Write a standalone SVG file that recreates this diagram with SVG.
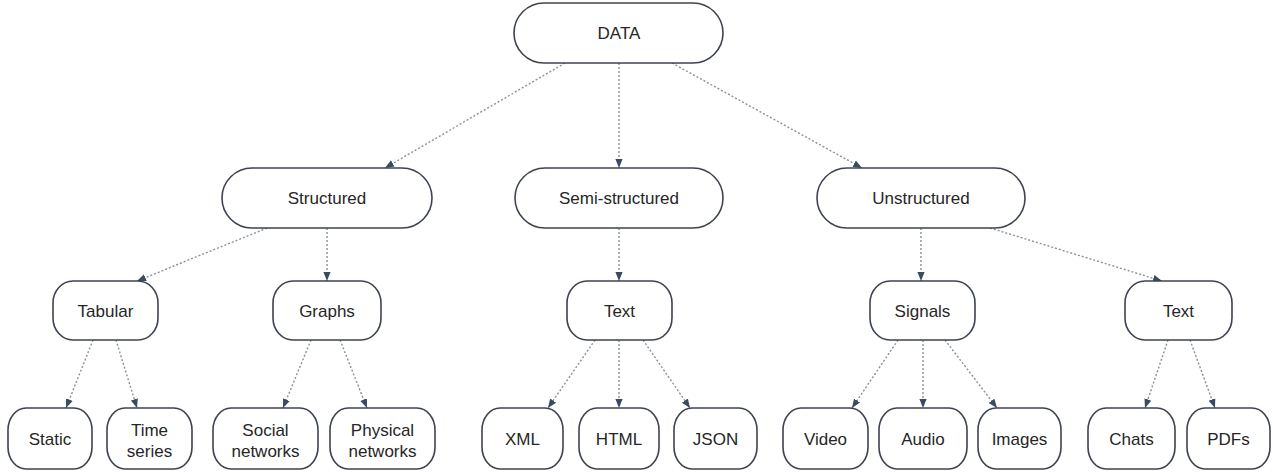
<svg xmlns="http://www.w3.org/2000/svg" width="1273" height="472" viewBox="0 0 1273 472">
  <style>
    .box { fill: #ffffff; stroke: #3d4350; stroke-width: 1.6; }
    .lbl { font-family: "Liberation Sans", Arial, sans-serif; font-size: 17px; fill: #262626; text-anchor: middle; }
    .edge { fill: none; stroke: #8b909a; stroke-width: 1.4; stroke-dasharray: 2 2; marker-end: url(#arrow); }
  </style>
  <defs>
    <marker id="arrow" markerUnits="userSpaceOnUse" markerWidth="9" markerHeight="9" viewBox="0 0 10 10" refX="10" refY="5" orient="auto">
      <path d="M0,1 L10,5 L0,9 Z" fill="#3b4a60"/>
    </marker>
  </defs>
  <rect width="1273" height="472" fill="#ffffff"/>

  <!-- connectors -->
  <g id="connectors">
    <line class="edge" x1="565" y1="63" x2="385" y2="168"/>
    <line class="edge" x1="619" y1="63" x2="619" y2="168"/>
    <line class="edge" x1="672" y1="63" x2="862" y2="168"/>
    <line class="edge" x1="267" y1="228" x2="137" y2="281"/>
    <line class="edge" x1="327" y1="228" x2="327" y2="281"/>
    <line class="edge" x1="619" y1="228" x2="619" y2="281"/>
    <line class="edge" x1="921" y1="228" x2="921" y2="281"/>
    <line class="edge" x1="990" y1="228" x2="1162" y2="281"/>
    <line class="edge" x1="93" y1="340" x2="66" y2="408"/>
    <line class="edge" x1="116" y1="340" x2="137" y2="408"/>
    <line class="edge" x1="311" y1="340" x2="283" y2="408"/>
    <line class="edge" x1="340" y1="340" x2="367" y2="408"/>
    <line class="edge" x1="595" y1="340" x2="548" y2="408"/>
    <line class="edge" x1="619" y1="340" x2="619" y2="408"/>
    <line class="edge" x1="643" y1="340" x2="690" y2="408"/>
    <line class="edge" x1="898" y1="340" x2="852" y2="408"/>
    <line class="edge" x1="923" y1="340" x2="923" y2="408"/>
    <line class="edge" x1="945" y1="340" x2="997" y2="408"/>
    <line class="edge" x1="1168" y1="340" x2="1145" y2="408"/>
    <line class="edge" x1="1190" y1="340" x2="1215" y2="408"/>
  </g>

  <!-- root -->
  <g id="data">
    <rect class="box" x="514" y="3" width="209" height="60" rx="30"/>
    <text class="lbl" x="619" y="39">DATA</text>
  </g>

  <!-- level 1 -->
  <g id="structured">
    <rect class="box" x="222" y="168" width="210" height="60" rx="30"/>
    <text class="lbl" x="327" y="204">Structured</text>
  </g>
  <g id="semi-structured">
    <rect class="box" x="515" y="168" width="208" height="60" rx="30"/>
    <text class="lbl" x="619" y="204">Semi-structured</text>
  </g>
  <g id="unstructured">
    <rect class="box" x="817" y="168" width="208" height="60" rx="30"/>
    <text class="lbl" x="921" y="204">Unstructured</text>
  </g>

  <!-- level 2 -->
  <g id="tabular">
    <rect class="box" x="53" y="281" width="105" height="59" rx="20" ry="22"/>
    <text class="lbl" x="105.5" y="317">Tabular</text>
  </g>
  <g id="graphs">
    <rect class="box" x="273" y="281" width="108" height="59" rx="20" ry="22"/>
    <text class="lbl" x="327" y="317">Graphs</text>
  </g>
  <g id="semi-text">
    <rect class="box" x="567" y="281" width="105" height="59" rx="20" ry="22"/>
    <text class="lbl" x="619.5" y="317">Text</text>
  </g>
  <g id="signals">
    <rect class="box" x="870" y="281" width="105" height="59" rx="20" ry="22"/>
    <text class="lbl" x="922.5" y="317">Signals</text>
  </g>
  <g id="unstructured-text">
    <rect class="box" x="1125" y="281" width="107" height="59" rx="20" ry="22"/>
    <text class="lbl" x="1178.5" y="317">Text</text>
  </g>

  <!-- leaves -->
  <g id="static">
    <rect class="box" x="8" y="408" width="84" height="61" rx="18" ry="22"/>
    <text class="lbl" x="50" y="445">Static</text>
  </g>
  <g id="time-series">
    <rect class="box" x="107" y="408" width="85" height="61" rx="18" ry="22"/>
    <text class="lbl" x="149.5" y="436">Time</text>
    <text class="lbl" x="149.5" y="457">series</text>
  </g>
  <g id="social-networks">
    <rect class="box" x="213" y="408" width="105" height="61" rx="18" ry="22"/>
    <text class="lbl" x="265.5" y="436">Social</text>
    <text class="lbl" x="265.5" y="457">networks</text>
  </g>
  <g id="physical-networks">
    <rect class="box" x="330" y="408" width="105" height="61" rx="18" ry="22"/>
    <text class="lbl" x="382.5" y="436">Physical</text>
    <text class="lbl" x="382.5" y="457">networks</text>
  </g>
  <g id="xml">
    <rect class="box" x="482" y="408" width="81" height="61" rx="18" ry="22"/>
    <text class="lbl" x="522.5" y="445">XML</text>
  </g>
  <g id="html">
    <rect class="box" x="579" y="408" width="80" height="61" rx="18" ry="22"/>
    <text class="lbl" x="619" y="445">HTML</text>
  </g>
  <g id="json">
    <rect class="box" x="674" y="408" width="83" height="61" rx="18" ry="22"/>
    <text class="lbl" x="715.5" y="445">JSON</text>
  </g>
  <g id="video">
    <rect class="box" x="783" y="408" width="85" height="61" rx="18" ry="22"/>
    <text class="lbl" x="825.5" y="445">Video</text>
  </g>
  <g id="audio">
    <rect class="box" x="879" y="408" width="88" height="61" rx="18" ry="22"/>
    <text class="lbl" x="923" y="445">Audio</text>
  </g>
  <g id="images">
    <rect class="box" x="978" y="408" width="83" height="61" rx="18" ry="22"/>
    <text class="lbl" x="1019.5" y="445">Images</text>
  </g>
  <g id="chats">
    <rect class="box" x="1088" y="408" width="87" height="61" rx="18" ry="22"/>
    <text class="lbl" x="1131.5" y="445">Chats</text>
  </g>
  <g id="pdfs">
    <rect class="box" x="1187" y="408" width="83" height="61" rx="18" ry="22"/>
    <text class="lbl" x="1228.5" y="445">PDFs</text>
  </g>
</svg>
